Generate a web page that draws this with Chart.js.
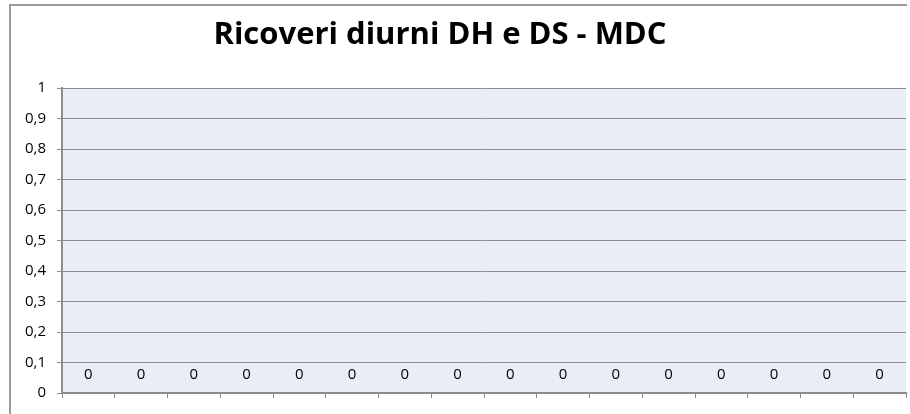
<!DOCTYPE html>
<html>
<head>
<meta charset="utf-8">
<script src="https://cdn.jsdelivr.net/npm/chart.js@4/dist/chart.umd.min.js"></script>
<style>
  html, body { margin: 0; padding: 0; background: #fff; }
  #wrap { width: 910px; height: 414px; position: relative; }
</style>
</head>
<body>
<div id="wrap"><canvas id="chart" width="910" height="414"></canvas></div>
<script>
// data
const chartTitle = 'Ricoveri diurni DH e DS - MDC';
const categories = ['1', '2', '3', '4', '5', '6', '7', '8', '9', '10', '11', '12', '13', '14', '15', '16'];
const values = [0, 0, 0, 0, 0, 0, 0, 0, 0, 0, 0, 0, 0, 0, 0, 0];
const yTickLabels = ['0', '0,1', '0,2', '0,3', '0,4', '0,5', '0,6', '0,7', '0,8', '0,9', '1'];

const FONT = '"Open Sans", Lato, sans-serif';

// plot area background, outer frame and title
const backdrop = {
  id: 'backdrop',
  beforeDraw(chart) {
    const ctx = chart.ctx;
    const a = chart.chartArea;
    ctx.save();
    ctx.fillStyle = '#e9edf5';
    ctx.fillRect(a.left, a.top, a.right - a.left, a.bottom - a.top);
    ctx.strokeStyle = '#9a9a9a';
    ctx.lineWidth = 2;
    ctx.beginPath();
    ctx.moveTo(10, 420);
    ctx.lineTo(10, 5);
    ctx.lineTo(907, 5);
    ctx.stroke();
    // title sits a bit left of centre, like the original
    ctx.font = 'bold 31px ' + FONT;
    ctx.fillStyle = '#000';
    ctx.textAlign = 'center';
    ctx.textBaseline = 'alphabetic';
    ctx.fillText(chartTitle, 440, 44);
    ctx.restore();
  }
};

// value labels above each (empty) bar
const valueLabels = {
  id: 'valueLabels',
  afterDatasetsDraw(chart) {
    const ctx = chart.ctx;
    const meta = chart.getDatasetMeta(0);
    ctx.save();
    ctx.font = '15px ' + FONT;
    ctx.fillStyle = '#000';
    ctx.textAlign = 'center';
    ctx.textBaseline = 'middle';
    meta.data.forEach(function(bar, i) {
      ctx.fillText(String(values[i]), bar.x, bar.y - 18);
    });
    ctx.restore();
  }
};

new Chart(document.getElementById('chart'), {
  type: 'bar',
  data: {
    labels: categories,
    datasets: [{
      label: chartTitle,
      data: values,
      backgroundColor: '#4f81bd'
    }]
  },
  options: {
    responsive: false,
    animation: false,
    layout: { padding: { left: 0, right: 4, top: 88, bottom: 16 } },
    plugins: {
      legend: { display: false },
      tooltip: { enabled: false },
      title: { display: false }
    },
    scales: {
      x: {
        offset: true,
        grid: {
          offset: true,
          drawOnChartArea: false,
          drawTicks: true,
          tickLength: 5,
          color: '#8c8c8c'
        },
        border: { color: '#8c8c8c', width: 2 },
        ticks: { display: false }
      },
      y: {
        min: 0,
        max: 1,
        afterFit(scale) { scale.width = 62; },
        ticks: {
          stepSize: 0.1,
          padding: 11,
          color: '#000',
          font: { family: FONT, size: 15 },
          callback: function(v, i) { return yTickLabels[i]; }
        },
        grid: { color: '#8c8c8c', tickLength: 5 },
        border: { color: '#8c8c8c', width: 2 }
      }
    }
  },
  plugins: [backdrop, valueLabels]
});
</script>
</body>
</html>
